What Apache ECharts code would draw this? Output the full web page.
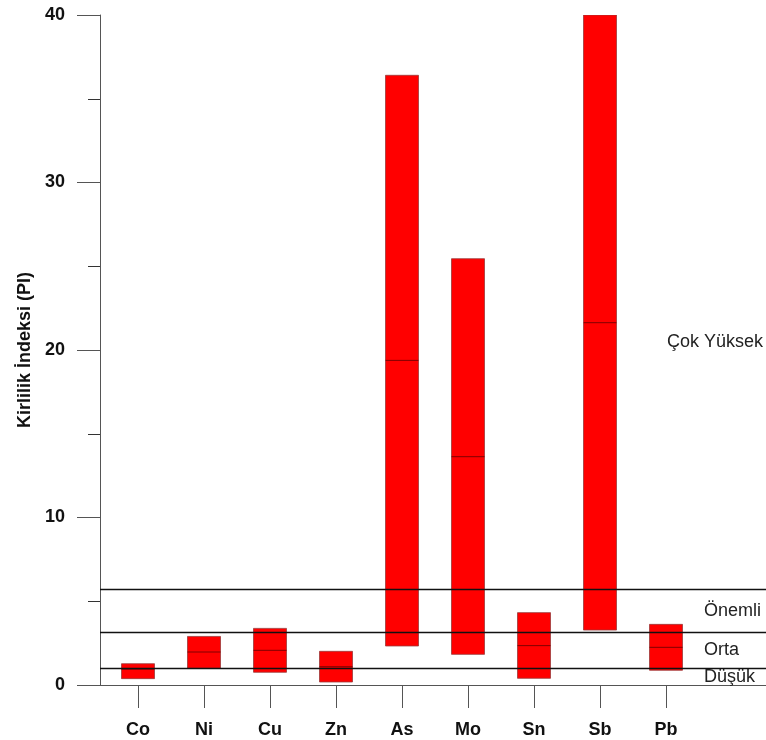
<!DOCTYPE html>
<html>
<head>
<meta charset="utf-8">
<script src="https://cdn.jsdelivr.net/npm/echarts@6/dist/echarts.min.js"></script>
<style>
html,body{margin:0;padding:0;background:#fff;}
#chart{width:766px;height:740px;}
</style>
</head>
<body>
<div id="chart"></div>
<script>
// ---- data ----
const categories = ['Co', 'Ni', 'Cu', 'Zn', 'As', 'Mo', 'Sn', 'Sb', 'Pb'];
const minValues = [0.38, 1.0, 0.76, 0.18, 2.33, 1.83, 0.40, 3.28, 0.88];
const maxValues = [1.27, 2.90, 3.38, 2.01, 36.4, 25.45, 4.32, 40.0, 3.62];
const medianValues = [0.95, 1.97, 2.07, 1.09, 19.38, 13.63, 2.35, 21.63, 2.25];
const thresholds = [1, 3.15, 5.7];
const classNames = ['Düşük', 'Orta', 'Önemli', 'Çok Yüksek'];
const yTicks = [0, 10, 20, 30, 40];
const yAxisTitle = 'Kirlilik İndeksi (PI)';

const FONT = '"Liberation Sans", Arial, sans-serif';
const chart = echarts.init(document.getElementById('chart'), null, {renderer: 'canvas'});

const boxData = categories.map((c, i) => [i, minValues[i], maxValues[i], medianValues[i]]);

const bandEdges = [0].concat(thresholds).concat([yTicks[yTicks.length - 1]]);
const areaData = classNames.map((name, i) => {
  const last = i === classNames.length - 1;
  return [
    {
      yAxis: bandEdges[i],
      name: name,
      label: last
        ? {position: [567, 327], align: 'left', verticalAlign: 'middle'}
        : {position: [604, '50%'], align: 'left', verticalAlign: 'middle'}
    },
    {yAxis: bandEdges[i + 1]}
  ];
});

chart.setOption({
  animation: false,
  backgroundColor: '#ffffff',
  grid: {left: 100, right: 0, top: 15, bottom: 55, containLabel: false},
  xAxis: {
    type: 'value',
    min: -0.5758,
    max: 9.515,
    splitLine: {show: false},
    axisLine: {show: true, onZero: false, lineStyle: {color: '#555', width: 1}},
    axisTick: {show: true, customValues: categories.map((c, i) => i), length: 23, lineStyle: {color: '#555'}},
    axisLabel: {
      show: true,
      customValues: categories.map((c, i) => i),
      formatter: v => categories[Math.round(v)] || '',
      fontFamily: FONT, fontSize: 18, fontWeight: 'bold', color: '#111', margin: 36
    }
  },
  yAxis: {
    type: 'value',
    min: 0, max: 40, interval: 10,
    name: yAxisTitle,
    nameLocation: 'middle',
    nameRotate: 90,
    nameGap: 64,
    nameTextStyle: {fontFamily: FONT, fontSize: 18, fontWeight: 'bold', color: '#111'},
    splitLine: {show: false},
    axisLine: {show: true, onZero: false, lineStyle: {color: '#555', width: 1}},
    axisTick: {show: true, length: 23, lineStyle: {color: '#555'}},
    minorTick: {show: true, splitNumber: 2, length: 12, lineStyle: {color: '#333'}},
    axisLabel: {fontFamily: FONT, fontSize: 18, fontWeight: 'bold', color: '#111', margin: 35}
  },
  series: [{
    type: 'custom',
    data: boxData,
    encode: {x: 0, y: [1, 2, 3]},
    clip: true,
    renderItem: function (params, api) {
      const x = api.value(0);
      const lo = api.coord([x, api.value(1)]);
      const hi = api.coord([x, api.value(2)]);
      const md = api.coord([x, api.value(3)]);
      const w = api.size([0.5, 0])[0];
      return {
        type: 'group',
        children: [
          {
            type: 'rect',
            shape: {x: lo[0] - w / 2, y: hi[1], width: w, height: lo[1] - hi[1]},
            style: {fill: '#ff0000', stroke: '#9a3a3a', lineWidth: 0.8}
          },
          {
            type: 'line',
            shape: {x1: md[0] - w / 2, y1: md[1], x2: md[0] + w / 2, y2: md[1]},
            style: {stroke: '#800000', lineWidth: 1}
          }
        ]
      };
    },
    markLine: {
      silent: true,
      symbol: 'none',
      label: {show: false},
      lineStyle: {color: '#111', width: 1.3, type: 'solid'},
      data: thresholds.map(t => ({yAxis: t}))
    },
    markArea: {
      silent: true,
      itemStyle: {color: 'rgba(0,0,0,0)'},
      label: {show: true, fontFamily: FONT, fontSize: 18, color: '#222'},
      data: areaData
    },
    z: 2
  }]
});
</script>
</body>
</html>
